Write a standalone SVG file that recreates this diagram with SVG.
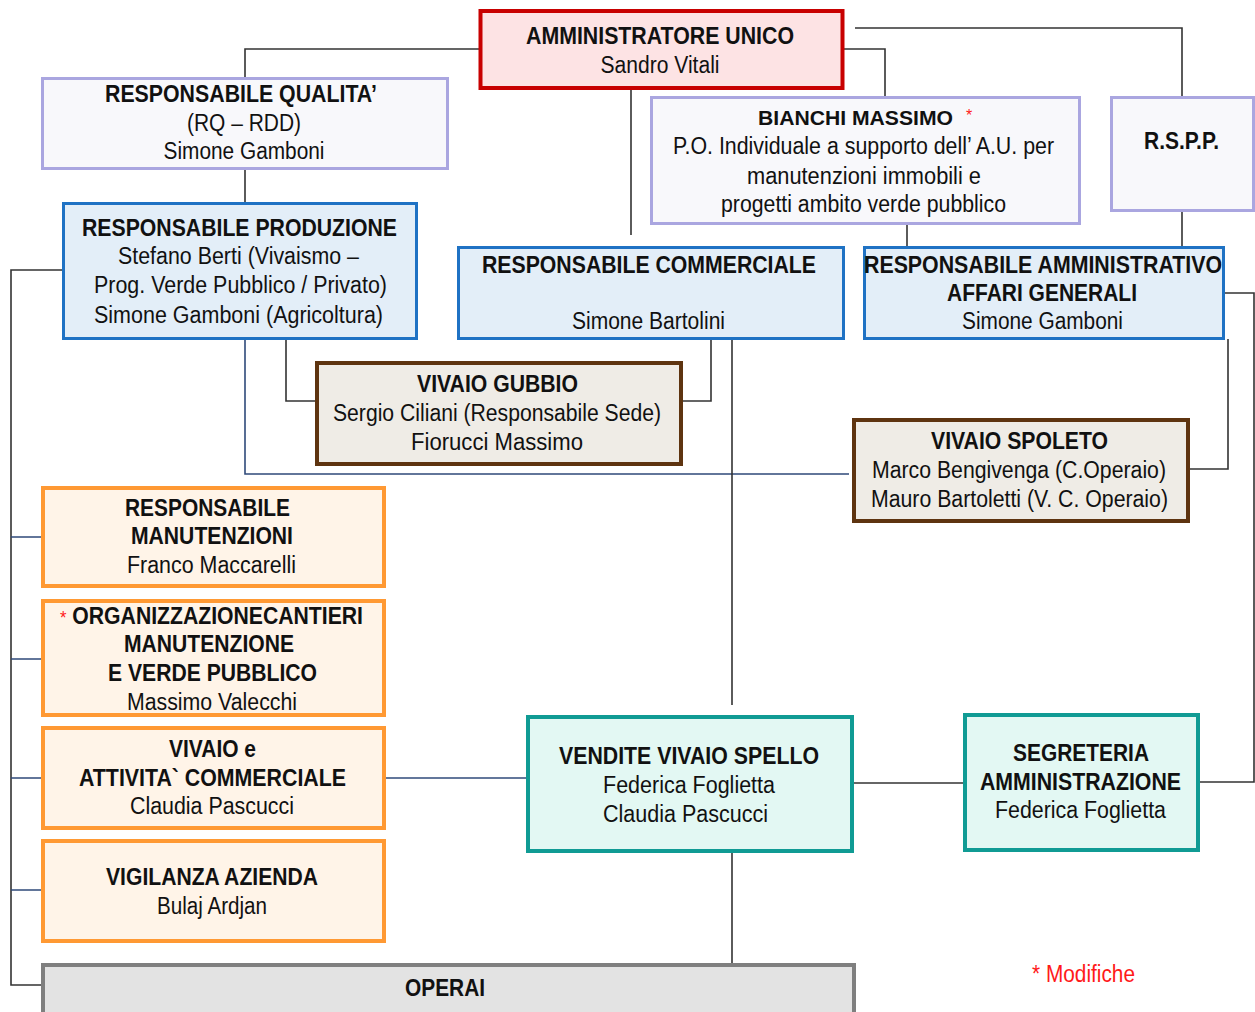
<svg xmlns="http://www.w3.org/2000/svg" width="1255" height="1012" viewBox="0 0 1255 1012">
<style>
text{font-family:"Liberation Sans Narrow","Arial Narrow","Liberation Sans",Arial,sans-serif;font-size:23px;fill:#111;text-anchor:middle}
.b{font-weight:bold}
.r{fill:#ff1a1a}
.ast{fill:#ff1a1a;font-size:18px;font-weight:normal}
.au{fill:#fde3e4;stroke:#c80000;stroke-width:4}
.lav{fill:#f8f8fb;stroke:#aaa6e0;stroke-width:3}
.blu{fill:#e3eef8;stroke:#1f72c4;stroke-width:3}
.brn{fill:#efece6;stroke:#5e3410;stroke-width:4}
.org{fill:#fff4e8;stroke:#ff9933;stroke-width:4}
.tea{fill:#e3f8f3;stroke:#109b94;stroke-width:4}
.gry{fill:#e3e3e3;stroke:#7f7f7f;stroke-width:4}
#connectors path{fill:none;stroke:#333;stroke-width:1.6}
#connectors path.n{stroke:#2f4a7a}
</style>
<rect width="1255" height="1012" fill="#fff"/>
<g id="connectors">
<path d="M479,49 H245 V78"/>
<path d="M245,169 V203"/>
<path d="M855,28 H1182 V97"/>
<path d="M843,49 H885 V97"/>
<path d="M631,89 V235"/>
<path d="M907,207 V247"/>
<path d="M1182,211 V247"/>
<path d="M63,270 H11 V985 H42"/>
<path class="n" d="M11,537 H42 M11,659 H42 M11,778 H42 M11,890 H42"/>
<path d="M286,339 V401 H316"/>
<path class="n" d="M245,339 V474 H849"/>
<path d="M711,339 V401 H681"/>
<path d="M732,339 V705"/>
<path d="M1224,293 H1254 V782 H1198"/>
<path d="M1228,339 V469 H1188"/>
<path class="n" d="M384,778 H527"/>
<path d="M852,783 H964"/>
<path d="M732,852 V964"/>
</g>
<g id="au">
<rect class="au" x="480.5" y="11" width="362" height="77"/>
<text class="b" x="660" y="44" textLength="268" lengthAdjust="spacingAndGlyphs">AMMINISTRATORE UNICO</text>
<text x="660" y="73" textLength="119" lengthAdjust="spacingAndGlyphs">Sandro Vitali</text>
</g>
<g id="rq">
<rect class="lav" x="42.5" y="78.5" width="405" height="90"/>
<text class="b" x="241" y="102" textLength="272" lengthAdjust="spacingAndGlyphs">RESPONSABILE  QUALITA’</text>
<text x="244" y="131" textLength="114" lengthAdjust="spacingAndGlyphs">(RQ – RDD)</text>
<text x="244" y="159" textLength="161" lengthAdjust="spacingAndGlyphs">Simone Gamboni</text>
</g>
<g id="bianchi">
<rect class="lav" x="651.5" y="97.5" width="428" height="126"/>
<text class="b" x="855.5" y="125" style="font-size:21px" textLength="195" lengthAdjust="spacingAndGlyphs">BIANCHI MASSIMO</text>
<text class="ast" x="966" y="121" style="text-anchor:start;font-size:16px">*</text>
<text x="863.5" y="154" textLength="381" lengthAdjust="spacingAndGlyphs">P.O. Individuale a supporto dell’ A.U. per</text>
<text x="864" y="184" textLength="234" lengthAdjust="spacingAndGlyphs">manutenzioni  immobili e</text>
<text x="863.5" y="212" textLength="285" lengthAdjust="spacingAndGlyphs">progetti ambito verde pubblico</text>
</g>
<g id="rspp">
<rect class="lav" x="1111.5" y="97.5" width="142" height="113"/>
<text class="b" x="1181.5" y="149" textLength="75" lengthAdjust="spacingAndGlyphs">R.S.P.P.</text>
</g>
<g id="rp">
<rect class="blu" x="63.5" y="203.5" width="353" height="135"/>
<text class="b" x="239.5" y="236" textLength="315" lengthAdjust="spacingAndGlyphs">RESPONSABILE  PRODUZIONE</text>
<text x="238.5" y="264" textLength="241" lengthAdjust="spacingAndGlyphs">Stefano Berti (Vivaismo –</text>
<text x="240.5" y="293" textLength="293" lengthAdjust="spacingAndGlyphs">Prog. Verde Pubblico / Privato)</text>
<text x="238.5" y="323" textLength="289" lengthAdjust="spacingAndGlyphs">Simone Gamboni  (Agricoltura)</text>
</g>
<g id="rc">
<rect class="blu" x="458.5" y="247.5" width="385" height="91"/>
<text class="b" x="649" y="273" textLength="334" lengthAdjust="spacingAndGlyphs">RESPONSABILE  COMMERCIALE</text>
<text x="648.5" y="329" textLength="153" lengthAdjust="spacingAndGlyphs">Simone Bartolini</text>
</g>
<g id="ra">
<rect class="blu" x="864.5" y="247.5" width="359" height="91"/>
<text class="b" x="1043" y="273" textLength="358" lengthAdjust="spacingAndGlyphs">RESPONSABILE AMMINISTRATIVO</text>
<text class="b" x="1042" y="301" textLength="190" lengthAdjust="spacingAndGlyphs">AFFARI GENERALI</text>
<text x="1042.5" y="329" textLength="161" lengthAdjust="spacingAndGlyphs">Simone Gamboni</text>
</g>
<g id="gubbio">
<rect class="brn" x="317" y="363" width="364" height="101"/>
<text class="b" x="497.5" y="392" textLength="161" lengthAdjust="spacingAndGlyphs">VIVAIO GUBBIO</text>
<text x="497" y="421" textLength="328" lengthAdjust="spacingAndGlyphs">Sergio Ciliani (Responsabile  Sede)</text>
<text x="497" y="450" textLength="172" lengthAdjust="spacingAndGlyphs">Fiorucci  Massimo</text>
</g>
<g id="spoleto">
<rect class="brn" x="854" y="420" width="334" height="101"/>
<text class="b" x="1019.5" y="449" textLength="177" lengthAdjust="spacingAndGlyphs">VIVAIO SPOLETO</text>
<text x="1019" y="478" textLength="294" lengthAdjust="spacingAndGlyphs">Marco Bengivenga (C.Operaio)</text>
<text x="1019.5" y="507" textLength="297" lengthAdjust="spacingAndGlyphs">Mauro Bartoletti (V. C. Operaio)</text>
</g>
<g id="manutenzioni">
<rect class="org" x="43" y="488" width="341" height="98"/>
<text class="b" x="207.5" y="516" textLength="165" lengthAdjust="spacingAndGlyphs">RESPONSABILE</text>
<text class="b" x="212" y="544" textLength="162" lengthAdjust="spacingAndGlyphs">MANUTENZIONI</text>
<text x="211.5" y="573" textLength="169" lengthAdjust="spacingAndGlyphs">Franco Maccarelli</text>
</g>
<g id="organizzazione">
<rect class="org" x="43" y="601" width="341" height="114"/>
<text class="b" x="211.5" y="624" textLength="303" lengthAdjust="spacingAndGlyphs"><tspan class="ast">*</tspan> ORGANIZZAZIONECANTIERI</text>
<text class="b" x="209" y="652" textLength="170" lengthAdjust="spacingAndGlyphs">MANUTENZIONE</text>
<text class="b" x="212.5" y="681" textLength="209" lengthAdjust="spacingAndGlyphs">E VERDE PUBBLICO</text>
<text x="212" y="710" textLength="170" lengthAdjust="spacingAndGlyphs">Massimo Valecchi</text>
</g>
<g id="vivaio-commerciale">
<rect class="org" x="43" y="728" width="341" height="100"/>
<text class="b" x="212.5" y="757" textLength="87" lengthAdjust="spacingAndGlyphs">VIVAIO e</text>
<text class="b" x="212.5" y="786" textLength="267" lengthAdjust="spacingAndGlyphs">ATTIVITA` COMMERCIALE</text>
<text x="212" y="814" textLength="164" lengthAdjust="spacingAndGlyphs">Claudia Pascucci</text>
</g>
<g id="vigilanza">
<rect class="org" x="43" y="841" width="341" height="100"/>
<text class="b" x="212" y="885" textLength="212" lengthAdjust="spacingAndGlyphs">VIGILANZA AZIENDA</text>
<text x="212" y="914" textLength="110" lengthAdjust="spacingAndGlyphs">Bulaj Ardjan</text>
</g>
<g id="operai">
<rect class="gry" x="43" y="965" width="811" height="60"/>
<text class="b" x="445" y="996" textLength="80" lengthAdjust="spacingAndGlyphs">OPERAI</text>
</g>
<g id="vendite">
<rect class="tea" x="528" y="717" width="324" height="134"/>
<text class="b" x="689" y="764" textLength="260" lengthAdjust="spacingAndGlyphs">VENDITE VIVAIO  SPELLO</text>
<text x="689" y="793" textLength="172" lengthAdjust="spacingAndGlyphs">Federica Foglietta</text>
<text x="685.5" y="822" textLength="165" lengthAdjust="spacingAndGlyphs">Claudia Pascucci</text>
</g>
<g id="segreteria">
<rect class="tea" x="965" y="715" width="233" height="135"/>
<text class="b" x="1081" y="761" textLength="136" lengthAdjust="spacingAndGlyphs">SEGRETERIA</text>
<text class="b" x="1080.5" y="790" textLength="201" lengthAdjust="spacingAndGlyphs">AMMINISTRAZIONE</text>
<text x="1080.5" y="818" textLength="171" lengthAdjust="spacingAndGlyphs">Federica Foglietta</text>
</g>
<text class="r" x="1083.5" y="982" textLength="103" lengthAdjust="spacingAndGlyphs">* Modifiche</text>
</svg>
